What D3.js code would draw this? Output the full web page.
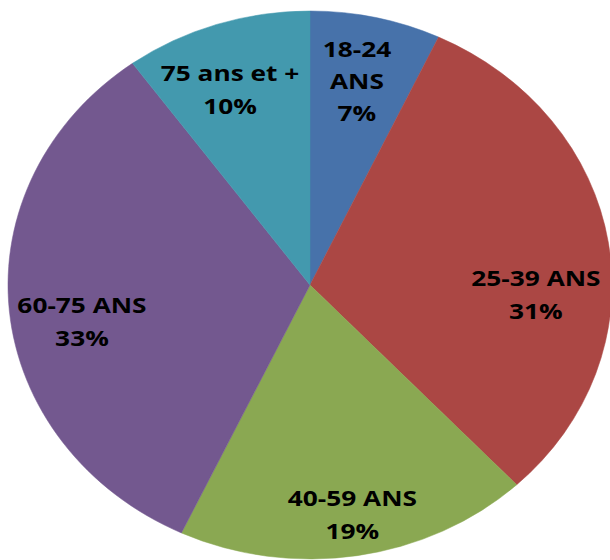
<!DOCTYPE html>
<html>
<head>
<meta charset="utf-8">
<script src="https://cdn.jsdelivr.net/npm/d3@7"></script>
<style>
  body { margin: 0; background: #ffffff; }
  svg { display: block; }
</style>
</head>
<body>
<div id="chart"></div>
<script>
// age groups and their share (%)
var categories = ["18-24 ANS", "25-39 ANS", "40-59 ANS", "60-75 ANS", "75 ans et +"];
var values = [7, 31, 19, 33, 10];
var colors = ["#4772aa", "#ab4744", "#8aa852", "#73588f", "#4399ae"];
// label lines as they are split in the picture
var labelLines = [["18-24", "ANS", "7%"], ["25-39 ANS", "31%"], ["40-59 ANS", "19%"], ["60-75 ANS", "33%"], ["75 ans et +", "10%"]];
// label placement: angle in degrees, fraction of radius
var labelAngle = [11.8, 92.8, 170.5, 259.9, 339.6];
var labelRadius = [0.76, 0.749, 0.85, 0.767, 0.76];

var width = 610, height = 560;
var cx = 310, cy = 285, rx = 302, ry = 274;
var stretch = rx / ry;

var svg = d3.select("#chart").append("svg")
    .attr("width", width)
    .attr("height", height);

var pie = d3.pie().sort(null).value(function(d) { return d; });
var arcs = pie(values);

var arc = d3.arc().innerRadius(0).outerRadius(ry);

// the pie is drawn stretched horizontally, as in the picture
var g = svg.append("g")
    .attr("transform", "translate(" + cx + "," + cy + ") scale(" + stretch + ",1)");

g.selectAll("path")
  .data(arcs)
  .enter().append("path")
    .attr("d", arc)
    .attr("fill", function(d, i) { return colors[i]; })
    .attr("stroke", function(d, i) { return colors[i]; })
    .attr("stroke-width", 0.5);

// labels (text is stretched too)
var labels = svg.append("g");
arcs.forEach(function(d, i) {
  var a = labelAngle[i] * Math.PI / 180;
  var x = cx + Math.sin(a) * rx * labelRadius[i];
  var y = cy - Math.cos(a) * ry * labelRadius[i];
  var lines = labelLines[i];
  var lh = lines.length == 3 ? 32.3 : 33;
  var t = labels.append("text")
      .attr("transform", "translate(" + x + "," + (y - (lines.length - 1) * lh / 2) + ") scale(1.25,1)")
      .attr("text-anchor", "middle")
      .attr("dominant-baseline", "central")
      .style("font-family", "'Open Sans', sans-serif")
      .style("font-weight", "bold")
      .style("font-size", "21px")
      .style("fill", "#000000");
  lines.forEach(function(s, j) {
    t.append("tspan")
      .attr("x", 0)
      .attr("dy", j == 0 ? 0 : lh)
      .text(s);
  });
});
</script>
</body>
</html>
